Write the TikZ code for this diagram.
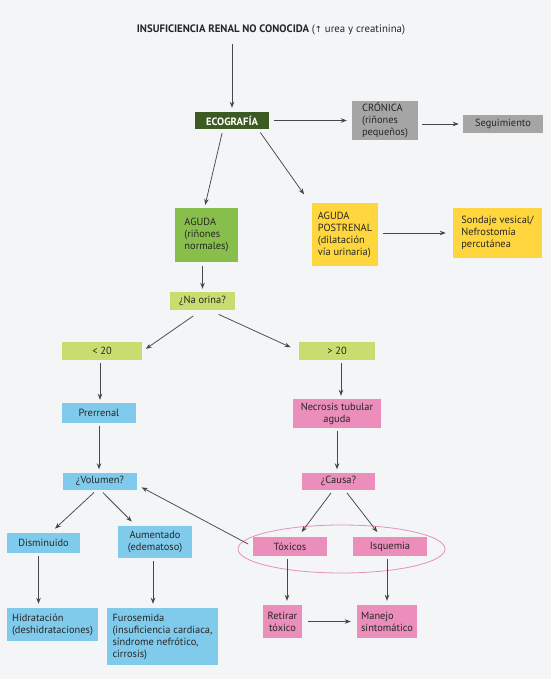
\documentclass[tikz,border=0pt]{standalone}
\usepackage{fontspec}
\setmainfont{PT Sans}
\newfontfamily\symfont{DejaVu Sans}
\usetikzlibrary{arrows.meta,shapes.geometric}
\definecolor{bgc}{HTML}{F4F5F7}
\definecolor{txt}{HTML}{262626}
\definecolor{linec}{HTML}{474747}
\definecolor{ecog}{HTML}{3D5A22}
\definecolor{agreen}{HTML}{88BE4C}
\definecolor{yel}{HTML}{FFD63E}
\definecolor{lime}{HTML}{C8DD70}
\definecolor{blu}{HTML}{80CBEC}
\definecolor{pnk}{HTML}{EC8EBB}
\definecolor{gry}{HTML}{A5A5A5}
\definecolor{ring}{HTML}{E592BA}
\begin{document}
\begin{tikzpicture}[x=1pt,y=-1pt,
  bx/.style={rectangle, inner sep=1pt, font=\fontsize{10.4}{12}\selectfont, text=txt, align=left},
  bxc/.style={bx, align=center},
  arr/.style={draw=linec, line width=0.75pt, -{Stealth[length=6pt,width=4.5pt]}},
]
\fill[bgc] (0,0) rectangle (551,679);

\node[font=\fontsize{10.8}{12}\selectfont, text=txt] (title) at (271,30)
  {\textbf{INSUFICIENCIA RENAL NO CONOCIDA} ({\symfont\fontsize{8.5}{9}\selectfont ↑} urea y creatinina)};

\node[bxc, fill=ecog, text=white, font=\fontsize{10.6}{12}\bfseries, minimum width=74pt, minimum height=17pt] (eco) at (232,120.5) {ECOGRAFÍA};
\node[bx, fill=gry, minimum width=66pt, minimum height=39pt] (cron) at (385,120.5) {CRÓNICA\\(riñones\\pequeños)};
\node[bxc, fill=gry, minimum width=80pt, minimum height=18pt] (seg) at (503,124) {Seguimiento};

\node[bx, fill=agreen, minimum width=63pt, minimum height=54pt] (aguda) at (206.5,235) {AGUDA\\(riñones\\normales)};
\node[bx, fill=yel, minimum width=66pt, minimum height=63pt] (post) at (345,234.5) {AGUDA\\POSTRENAL\\(dilatación\\vía urinaria)};
\node[bx, fill=yel, minimum width=89pt, minimum height=50pt] (sond) at (497.5,233) {Sondaje vesical/\\Nefrostomía\\percutánea};

\node[bxc, fill=lime, minimum width=65pt, minimum height=18pt] (na) at (202.5,301) {¿Na orina?};
\node[bxc, fill=lime, minimum width=80pt, minimum height=18pt] (lt) at (102,351) {< 20};
\node[bxc, fill=lime, minimum width=76pt, minimum height=18pt] (gt) at (337,351) {> 20};

\node[bxc, fill=blu, minimum width=74pt, minimum height=20pt] (prer) at (99,413) {Prerrenal};
\node[bxc, fill=pnk, minimum width=88pt, minimum height=29pt] (necro) at (337,413.5) {Necrosis tubular\\aguda};

\node[bxc, fill=blu, minimum width=74pt, minimum height=17pt] (vol) at (100,481) {¿Volumen?};
\node[bxc, fill=pnk, minimum width=73pt, minimum height=17pt] (causa) at (338.5,481) {¿Causa?};

\node[bxc, fill=blu, minimum width=73pt, minimum height=20pt] (dism) at (43.5,543) {Disminuido};
\node[bxc, fill=blu, minimum width=74pt, minimum height=32pt] (aum) at (155,542) {Aumentado\\(edematoso)};
\node[bxc, fill=pnk, minimum width=74pt, minimum height=19pt] (tox) at (290,546.5) {Tóxicos};
\node[bxc, fill=pnk, minimum width=74pt, minimum height=19pt] (isq) at (390,546.5) {Isquemia};
\node[draw=ring, line width=0.8pt, ellipse, minimum width=207pt, minimum height=48pt] (oval) at (341.5,549) {};

\node[bx, fill=blu, minimum width=91pt, minimum height=33pt] (hid) at (52.5,624.5) {Hidratación\\(deshidrataciones)};
\node[bx, fill=blu, minimum width=111pt, minimum height=57pt] (furo) at (162.5,636.5) {Furosemida\\(insuficiencia cardiaca,\\síndrome nefrótico,\\cirrosis)};
\node[bxc, fill=pnk, minimum width=39pt, minimum height=33pt] (ret) at (282.5,621.5) {Retirar\\tóxico};
\node[bx, fill=pnk, minimum width=60pt, minimum height=33pt] (man) at (387,621.5) {Manejo\\sintomático};

% connectors
\draw[arr, shorten <=5pt, shorten >=4pt] (title.south -| eco.north) -- (eco.north);
\draw[arr, shorten <=5pt, shorten >=5pt] (eco.east) -- (cron.west);
\draw[arr, shorten <=4pt, shorten >=4pt] (cron.east |- seg.west) -- (seg.west);
\draw[arr, shorten <=4pt, shorten >=3pt] ([xshift=-9pt]eco.south) -- ([xshift=-2pt]aguda.north);
\draw[arr, shorten <=4pt, shorten >=3pt] ([xshift=26pt]eco.south) -- ([xshift=-6pt,yshift=6pt]post.north west);
\draw[arr, shorten <=5pt, shorten >=7pt] (post.east |- sond.west) -- (sond.west);
\draw[arr, shorten <=4pt, shorten >=3pt] (aguda.south -| na.north) -- (na.north);
\draw[arr, shorten <=10pt, shorten >=2pt] ([xshift=-1pt]na.south) -- ([xshift=2pt,yshift=1pt]lt.east);
\draw[arr, shorten <=10pt, shorten >=9pt] ([xshift=7pt]na.south) -- (gt.west);
\draw[arr, shorten <=3pt, shorten >=3pt] ([xshift=-2pt]lt.south) -- ([xshift=-2pt]lt.south |- prer.north);
\draw[arr, shorten <=3pt, shorten >=3pt] ([xshift=4pt]gt.south) -- ([xshift=4pt]gt.south |- necro.north);
\draw[arr, shorten <=3pt, shorten >=3pt] (prer.south) -- (prer.south |- vol.north);
\draw[arr, shorten <=3pt, shorten >=3pt] (necro.south) -- (necro.south |- causa.north);
\draw[arr, shorten <=4pt, shorten >=6pt] ([xshift=-3pt]vol.south) -- ([xshift=7pt]dism.north);
\draw[arr, shorten <=4pt, shorten >=6pt] (vol.south) -- ([xshift=-19pt]aum.north);
\draw[arr, shorten <=4pt, shorten >=6pt] ([xshift=-5pt]causa.south) -- ([xshift=8pt]tox.north);
\draw[arr, shorten <=4pt, shorten >=6pt] ([xshift=6pt]causa.south) -- ([xshift=-9pt]isq.north);
\draw[arr, shorten <=5pt, shorten >=5pt] (tox.west) -- ([yshift=-4pt]vol.east);
\draw[arr, shorten <=3pt, shorten >=4pt] ([xshift=-5pt]dism.south) -- ([xshift=-5pt]dism.south |- hid.north);
\draw[arr, shorten <=3pt, shorten >=4pt] ([xshift=-2pt]aum.south) -- ([xshift=-2pt]aum.south |- furo.north);
\draw[arr, shorten <=3pt, shorten >=4pt] ([xshift=-3pt]tox.south) -- ([xshift=-3pt]tox.south |- ret.north);
\draw[arr, shorten <=3pt, shorten >=4pt] (man.north |- isq.south) -- (man.north);
\draw[arr, shorten <=6pt, shorten >=6pt] (ret.east) -- (man.west);
\end{tikzpicture}
\end{document}
